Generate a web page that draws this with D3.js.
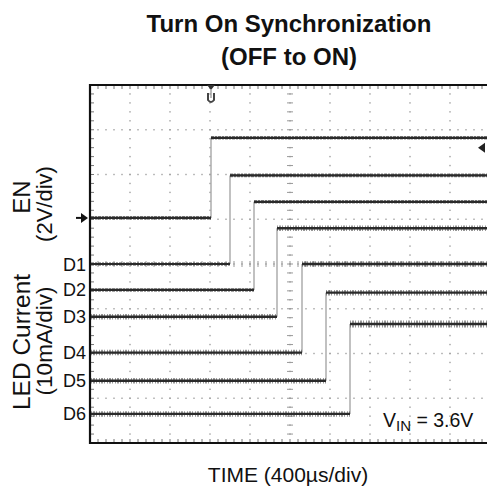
<!DOCTYPE html>
<html><head><meta charset="utf-8">
<script src="https://cdn.jsdelivr.net/npm/d3@7/dist/d3.min.js"></script>
<style>body{margin:0;background:#fff}svg{display:block}text{font-family:"Liberation Sans",Arial,sans-serif;fill:#111}</style>
</head><body><svg id="c" width="487" height="489"></svg>
<script>
// ---- data (time in µs, level in divisions from screen centre) ----
const channels   = ["EN", "D1", "D2", "D3", "D4", "D5", "D6"];
const lowLevel   = [1.03, 0.00, -0.58, -1.18, -1.98, -2.61, -3.35];
const highLevel  = [2.82, 1.98, 1.39, 0.80, 0.00, -0.64, -1.34];
const edgeTime   = [1210, 1400, 1640, 1870, 2120, 2360, 2600];
const noisy      = [false, false, false, true, true, true, true];
const timeDomain = [0, 4000];          // 10 div x 400 µs
const divDomain  = [-4, 4];            // 8 vertical divisions
const triggerTime = 1210, triggerLevel = 2.6;
const xLabel = "TIME (400µs/div)";
const titleLines = ["Turn On Synchronization", "(OFF to ON)"];

const svg = d3.select("#c");
const L = 90, R = 490, T = 85, B = 443;
const x = d3.scaleLinear().domain(timeDomain).range([L, R]);
const y = d3.scaleLinear().domain(divDomain).range([B, T]);
const divX = 400, divY = 1;

// graticule dots
const g = svg.append("g");
const xMajors = d3.range(timeDomain[0], timeDomain[1] + 1, divX);
const yMajors = d3.range(divDomain[0], divDomain[1] + 0.001, divY);
const xMinors = d3.range(timeDomain[0], timeDomain[1] + 1, divX / 5);
const yMinors = d3.range(divDomain[0], divDomain[1] + 0.001, divY / 5);
xMajors.slice(1, -1).forEach(t => {
  yMinors.forEach(v => g.append("rect").attr("x", x(t) - 0.7).attr("y", y(v) - 0.7).attr("width", 1.4).attr("height", 1.4).attr("fill", "#a0a0a0"));
});
yMajors.slice(1, -1).forEach(v => {
  xMinors.forEach(t => g.append("rect").attr("x", x(t) - 0.7).attr("y", y(v) - 0.7).attr("width", 1.4).attr("height", 1.4).attr("fill", "#a0a0a0"));
});
// centre cross ticks
xMinors.forEach(t => g.append("line").attr("x1", x(t)).attr("x2", x(t)).attr("y1", y(0) - 3).attr("y2", y(0) + 3).attr("stroke", "#999").attr("stroke-width", 1));
yMinors.forEach(v => g.append("line").attr("x1", x(2000) - 3).attr("x2", x(2000) + 3).attr("y1", y(v)).attr("y2", y(v)).attr("stroke", "#999").attr("stroke-width", 1));
// border ticks
xMinors.forEach(t => {
  g.append("line").attr("x1", x(t)).attr("x2", x(t)).attr("y1", T).attr("y2", T + 4).attr("stroke", "#777");
  g.append("line").attr("x1", x(t)).attr("x2", x(t)).attr("y1", B).attr("y2", B - 4).attr("stroke", "#777");
});
yMinors.forEach(v => {
  g.append("line").attr("x1", L).attr("x2", L + 4).attr("y1", y(v)).attr("y2", y(v)).attr("stroke", "#777");
});
// border
svg.append("path").attr("d", `M${R},${T}H${L}V${B}H${R}`).attr("fill", "none").attr("stroke", "#111").attr("stroke-width", 2.2);

// traces
const tr = svg.append("g");
channels.forEach((c, i) => {
  const xe = x(edgeTime[i]);
  tr.append("line").attr("x1", xe).attr("x2", xe).attr("y1", y(lowLevel[i])).attr("y2", y(highLevel[i]))
    .attr("stroke", "#a0a0a0").attr("stroke-width", 1.3);
  const segs = [[x(timeDomain[0]) + 1, xe, lowLevel[i]], [xe, x(timeDomain[1]), highLevel[i]]];
  segs.forEach(([a, b, lv], k) => {
    const yy = y(lv);
    if (noisy[i]) {
      tr.append("line").attr("x1", a).attr("x2", b).attr("y1", yy).attr("y2", yy)
        .attr("stroke", "#444").attr("stroke-width", k === 1 && i === 6 ? 7 : 5.5).attr("stroke-dasharray", "1 1 2 1 1 2").attr("opacity", 0.55);
      tr.append("line").attr("x1", a).attr("x2", b).attr("y1", yy).attr("y2", yy)
        .attr("stroke", "#2a2a2a").attr("stroke-width", 2.4);
    } else {
      tr.append("line").attr("x1", a).attr("x2", b).attr("y1", yy).attr("y2", yy)
        .attr("stroke", "#555").attr("stroke-width", 3.6).attr("stroke-dasharray", "3 1 2 1").attr("opacity", 0.7);
      tr.append("line").attr("x1", a).attr("x2", b).attr("y1", yy).attr("y2", yy)
        .attr("stroke", "#2a2a2a").attr("stroke-width", 2.2);
    }
  });
  if (i > 0) {
    svg.append("text").attr("x", 86).attr("y", y(lowLevel[i]) + 6.5).attr("text-anchor", "end")
      .attr("font-size", 18).text(c);
  }
});

// markers
const tx = x(triggerTime);
svg.append("path").attr("d", `M${tx - 4},${T}L${tx + 4},${T}L${tx},${T + 5}Z`).attr("fill", "#333");
svg.append("path").attr("d", `M${tx - 3},${T + 8}V${T + 15}Q${tx},${T + 19} ${tx + 3},${T + 15}V${T + 8}`).attr("fill", "none").attr("stroke", "#444").attr("stroke-width", 2);
svg.append("line").attr("x1", tx).attr("x2", tx).attr("y1", T + 5).attr("y2", T + 13).attr("stroke", "#777").attr("stroke-width", 1);
const ty = y(triggerLevel);
svg.append("path").attr("d", `M478,${ty}L485,${ty - 5}L485,${ty + 5}Z`).attr("fill", "#222");
const gy = y(lowLevel[0]);
svg.append("path").attr("d", `M76,${gy}H82`).attr("stroke", "#111").attr("stroke-width", 2);
svg.append("path").attr("d", `M88,${gy}L81,${gy - 5}L81,${gy + 5}Z`).attr("fill", "#111");

// titles
titleLines.forEach((t, i) => svg.append("text").attr("x", 289).attr("y", 32 + i * 33).attr("text-anchor", "middle")
  .attr("font-size", 24).attr("font-weight", "bold").text(t));
svg.append("text").attr("x", 288).attr("y", 482).attr("text-anchor", "middle").attr("font-size", 21).text(xLabel);

// vertical labels
const vl = (txt, cx, cy, fs) => svg.append("text").attr("transform", `translate(${cx},${cy}) rotate(-90)`)
  .attr("text-anchor", "middle").attr("font-size", fs).text(txt);
vl("EN", 30, 197, 24);
vl("(2V/div)", 52, 204, 22);
vl("LED Current", 30, 342, 24.5);
vl("(10mA/div)", 52, 341, 22.5);

// VIN annotation
const vin = svg.append("text").attr("x", 383).attr("y", 427).attr("font-size", 19.5);
vin.append("tspan").text("V");
vin.append("tspan").attr("font-size", 15).attr("dy", 4).text("IN");
vin.append("tspan").attr("dy", -4).text(" = 3.6V");
</script></body></html>
